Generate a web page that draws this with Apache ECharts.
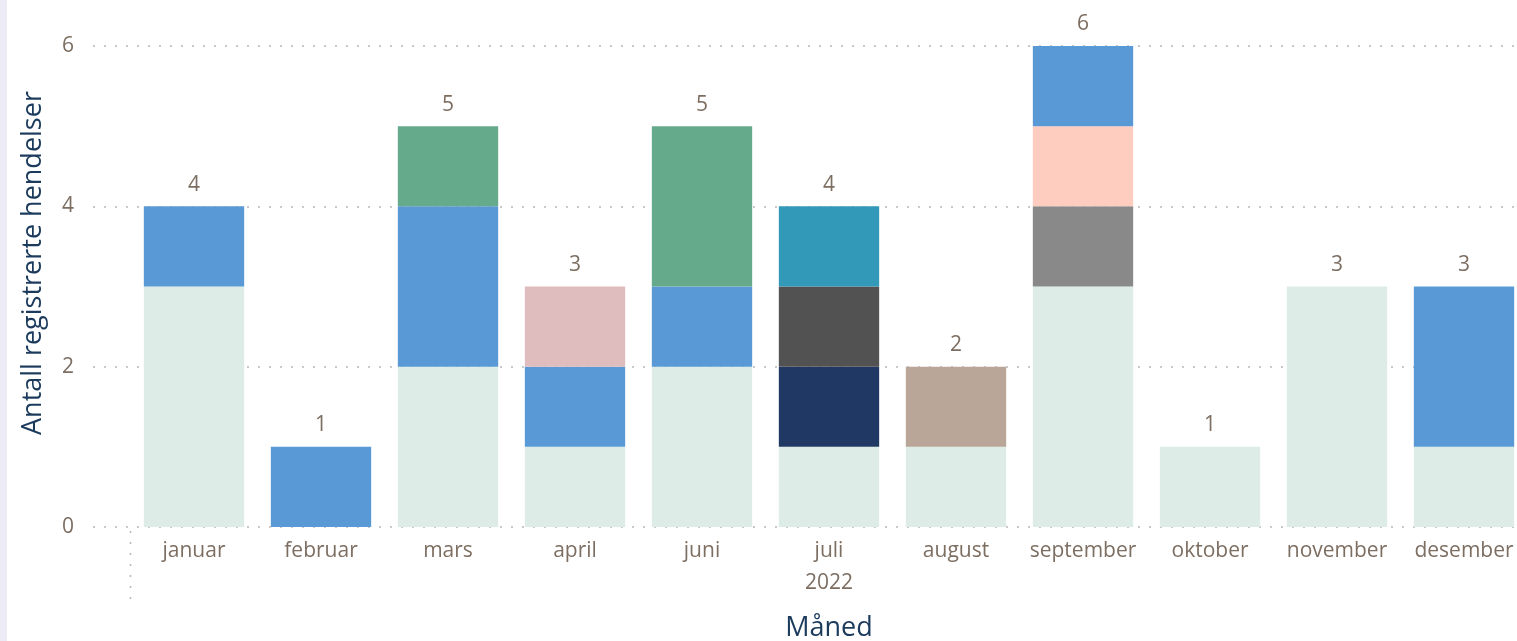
<!DOCTYPE html>
<html>
<head>
<meta charset="utf-8">
<script src="https://cdn.jsdelivr.net/npm/echarts@6/dist/echarts.min.js"></script>
<style>
  html, body { margin: 0; padding: 0; background: #fff; }
  #strip { position: absolute; left: 0; top: 0; width: 7px; height: 641px; background: #ecebf6; }
  #chart { width: 1517px; height: 641px; }
</style>
</head>
<body>
<div id="chart"></div>
<div id="strip"></div>
<script>
// data
const months = ['januar', 'februar', 'mars', 'april', 'juni', 'juli', 'august', 'september', 'oktober', 'november', 'desember']
const years = ['2022']
const yTicks = [0, 2, 4, 6]

const mint     = [3, null, 2, 1, 2, 1, 1, 3, 1, 3, 1]
const navy     = [null, null, null, null, null, 1, null, null, null, null, null]
const darkGray = [null, null, null, null, null, 1, null, null, null, null, null]
const teal     = [null, null, null, null, null, 1, null, null, null, null, null]
const gray     = [null, null, null, null, null, null, null, 1, null, null, null]
const peach    = [null, null, null, null, null, null, null, 1, null, null, null]
const blue     = [1, 1, 2, 1, 1, null, null, 1, null, null, 2]
const green    = [null, null, 1, null, 2, null, null, null, null, null, null]
const pink     = [null, null, null, 1, null, null, null, null, null, null, null]
const taupe    = [null, null, null, null, null, null, 1, null, null, null, null]

const stackSeries = [
  { name: 'A', data: mint, color: '#ddece6' },
  { name: 'B', data: navy, color: '#203864' },
  { name: 'C', data: darkGray, color: '#525252' },
  { name: 'D', data: teal, color: '#3399b8' },
  { name: 'E', data: gray, color: '#898989' },
  { name: 'F', data: peach, color: '#ffcdbf' },
  { name: 'G', data: blue, color: '#5899d6' },
  { name: 'H', data: green, color: '#66aa8c' },
  { name: 'I', data: pink, color: '#dfbdbe' },
  { name: 'J', data: taupe, color: '#baa698' }
]

// summen per måned, brukt som etikett over stolpen
const totals = months.map((m, i) => stackSeries.reduce((s, ser) => s + (ser.data[i] || 0), 0))

const labelColor = '#7d6e62'
const titleColor = '#1b3a5c'
const font = '"Open Sans", "Noto Sans", sans-serif'

const chart = echarts.init(document.getElementById('chart'))

const option = {
  animation: false,
  textStyle: { fontFamily: font },
  grid: [
    // bakgrunn for de prikkete linjene
    { left: 93, right: 0, top: 46, bottom: 114, outerBoundsMode: 'none', containLabel: false },
    // stolper
    { left: 130.5, right: -10.5, top: 46, bottom: 114, outerBoundsMode: 'none', containLabel: false }
  ],
  xAxis: [
    { type: 'value', gridIndex: 0, show: false, min: 0, max: 1 },
    {
      type: 'category', gridIndex: 1, data: months,
      axisLine: { show: false }, axisTick: { show: false },
      axisLabel: { color: labelColor, fontSize: 21, margin: 14, interval: 0, hideOverlap: false, fontFamily: font }
    },
    {
      type: 'category', gridIndex: 1, data: years, position: 'bottom', offset: 32,
      axisLine: { show: false }, axisTick: { show: false },
      axisLabel: { color: labelColor, fontSize: 21, margin: 14, interval: 0, fontFamily: font },
      name: 'Måned', nameLocation: 'middle', nameGap: 56,
      nameTextStyle: { color: titleColor, fontSize: 27, fontFamily: font }
    }
  ],
  yAxis: [
    {
      type: 'value', gridIndex: 0, min: yTicks[0], max: yTicks[yTicks.length - 1], interval: 2,
      axisLine: { show: false }, axisTick: { show: false },
      axisLabel: { color: labelColor, fontSize: 21, margin: 19, fontFamily: font },
      splitLine: { lineStyle: { type: [2, 9], color: '#b8b8b8', width: 1.5 } }
    },
    {
      type: 'value', gridIndex: 1, min: yTicks[0], max: yTicks[yTicks.length - 1], interval: 2,
      show: false, splitLine: { show: false }
    }
  ],
  graphic: [
    {
      type: 'text', rotation: Math.PI / 2, x: 20, y: 435,
      style: { text: 'Antall registrerte hendelser', fill: titleColor, fontSize: 27, fontFamily: font }
    },
    {
      type: 'line',
      shape: { x1: 130.5, y1: 531, x2: 130.5, y2: 606 },
      style: { stroke: '#b8b8b8', lineWidth: 1.5, lineDash: [2, 9] }
    }
  ],
  series: stackSeries.map(s => ({
    name: s.name, type: 'bar', stack: 'total', xAxisIndex: 1, yAxisIndex: 1,
    barCategoryGap: '21%', data: s.data,
    itemStyle: { color: s.color }
  })).concat([{
    name: 'total', type: 'bar', stack: 'total', xAxisIndex: 1, yAxisIndex: 1,
    data: totals.map(() => 0),
    itemStyle: { color: 'transparent' },
    label: {
      show: true, position: 'top', distance: 11, color: labelColor, fontSize: 21, fontFamily: font,
      formatter: p => totals[p.dataIndex]
    }
  }])
}

chart.setOption(option)
</script>
</body>
</html>
